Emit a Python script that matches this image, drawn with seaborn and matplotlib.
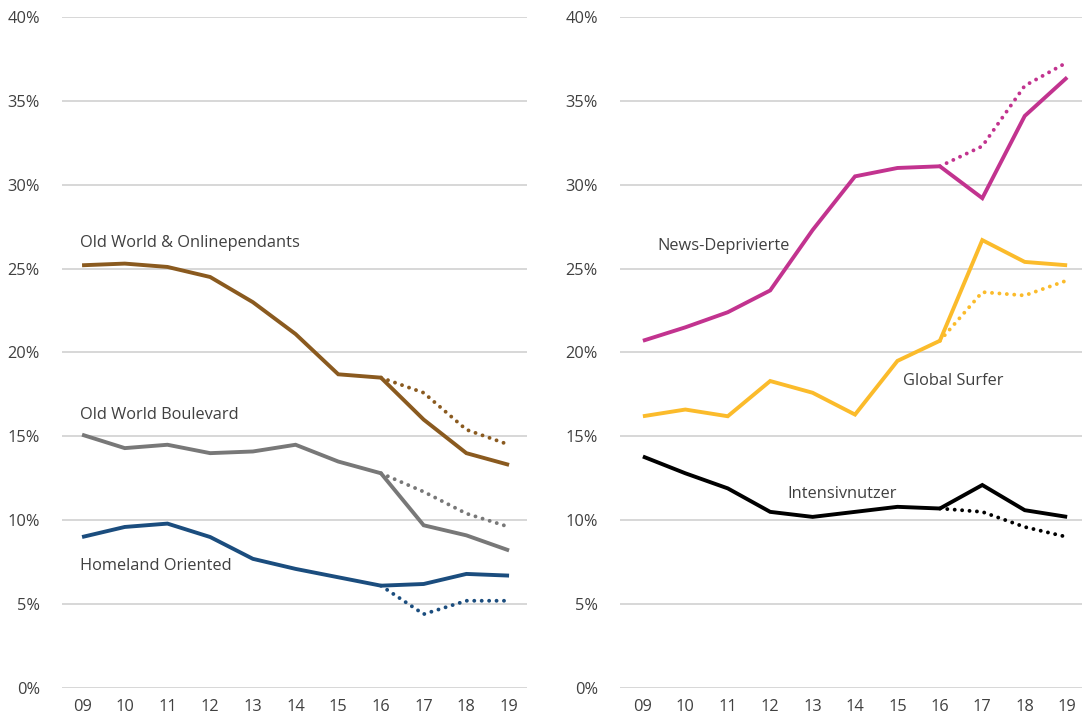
import numpy as np
import pandas as pd
import matplotlib
matplotlib.use("Agg")
import matplotlib.pyplot as plt
import seaborn as sns

years = ["09", "10", "11", "12", "13", "14", "15", "16", "17", "18", "19"]
proj_years = ["16", "17", "18", "19"]

# Left panel
old_world_online = [25.2, 25.3, 25.1, 24.5, 23.0, 21.1, 18.7, 18.5, 16.0, 14.0, 13.3]
old_world_online_dot = [18.5, 17.6, 15.4, 14.5]
old_world_boulevard = [15.1, 14.3, 14.5, 14.0, 14.1, 14.5, 13.5, 12.8, 9.7, 9.1, 8.2]
old_world_boulevard_dot = [12.8, 11.7, 10.4, 9.6]
homeland = [9.0, 9.6, 9.8, 9.0, 7.7, 7.1, 6.6, 6.1, 6.2, 6.8, 6.7]
homeland_dot = [6.1, 4.4, 5.2, 5.2]

# Right panel
news_depriv = [20.7, 21.5, 22.4, 23.7, 27.3, 30.5, 31.0, 31.1, 29.2, 34.1, 36.4]
news_depriv_dot = [31.1, 32.3, 35.9, 37.3]
global_surfer = [16.2, 16.6, 16.2, 18.3, 17.6, 16.3, 19.5, 20.7, 26.7, 25.4, 25.2]
global_surfer_dot = [20.7, 23.6, 23.4, 24.3]
intensiv = [13.8, 12.8, 11.9, 10.5, 10.2, 10.5, 10.8, 10.7, 12.1, 10.6, 10.2]
intensiv_dot = [10.7, 10.5, 9.6, 9.0]

yticks = [0, 5, 10, 15, 20, 25, 30, 35, 40]
ytick_labels = [f"{v}%" for v in yticks]

sns.set_theme(style="white")
plt.rcParams['font.family'] = ['Open Sans', 'DejaVu Sans']
txt = "#404040"
fs = 11.8

fig = plt.figure(figsize=(10.82, 7.19), dpi=100)
W, H = 1082, 719
bottom = (H - 688) / H
top = (H - 17) / H
axL = fig.add_axes([62 / W, bottom, (527 - 62) / W, top - bottom])
axR = fig.add_axes([620 / W, bottom, (1082 - 620) / W, top - bottom])

def panel(ax, series, labels, xlim):
    for solid, dot, color in series:
        df = pd.DataFrame({"x": np.arange(len(years)), "y": solid})
        sns.lineplot(data=df, x="x", y="y", ax=ax, color=color, lw=2.8,
                     solid_joinstyle="miter", solid_capstyle="butt", clip_on=False)
        start = years.index(proj_years[0])
        dfd = pd.DataFrame({"x": np.arange(start, start + len(dot)), "y": dot})
        sns.lineplot(data=dfd, x="x", y="y", ax=ax, color=color, lw=2.8,
                     linestyle=(0, (0.01, 1.9)), dash_capstyle="round", clip_on=False)
    for (text, x, y) in labels:
        ax.text(x, y, text, fontsize=fs, color=txt, ha="left", va="center")
    ax.set_xlim(*xlim)
    ax.set_ylim(0, 40)
    ax.set_yticks(yticks)
    ax.set_yticklabels(ytick_labels, fontsize=fs, color=txt)
    ax.set_xticks(np.arange(len(years)))
    ax.set_xticklabels(years, fontsize=fs, color=txt)
    ax.grid(axis="y", color="#d4d4d4", lw=1.3)
    ax.set_axisbelow(True)
    for s in ax.spines.values():
        s.set_visible(False)
    ax.tick_params(axis="both", length=0, pad=8)
    ax.tick_params(axis="y", pad=16)
    ax.set_xlabel("")
    ax.set_ylabel("")

panel(axL,
      [(old_world_online, old_world_online_dot, "#8a5a1f"),
       (old_world_boulevard, old_world_boulevard_dot, "#787878"),
       (homeland, homeland_dot, "#1b4d7e")],
      [("Old World & Onlinependants", -0.05, 26.5),
       ("Old World Boulevard", -0.05, 16.3),
       ("Homeland Oriented", -0.05, 7.3)],
      (-0.47, 10.42))

panel(axR,
      [(news_depriv, news_depriv_dot, "#c2338f"),
       (global_surfer, global_surfer_dot, "#fbbb2b"),
       (intensiv, intensiv_dot, "#000000")],
      [("News-Deprivierte", 0.35, 26.35),
       ("Global Surfer", 6.13, 18.3),
       ("Intensivnutzer", 3.4, 11.55)],
      (-0.54, 10.35))

fig.savefig("out.png", dpi=100)
